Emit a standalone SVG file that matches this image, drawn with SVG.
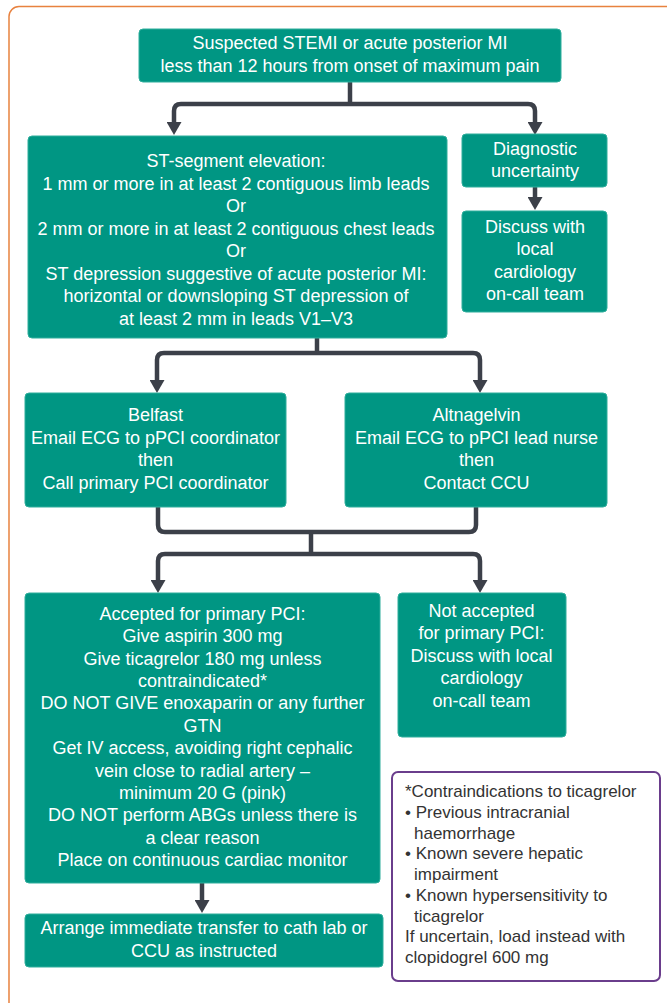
<svg xmlns="http://www.w3.org/2000/svg" width="667" height="1003" viewBox="0 0 667 1003">
<style>
.box{fill:#009683;stroke:#2fae9c;stroke-width:1}
.t{font-family:"Liberation Sans",Arial,sans-serif;font-size:18px;fill:#ffffff;text-anchor:middle}
.n{font-family:"Liberation Sans",Arial,sans-serif;font-size:17px;fill:#333333}
.c{fill:none;stroke:#3c4049;stroke-width:4.5}
</style>
<defs>
<marker id="arr" markerUnits="userSpaceOnUse" viewBox="0 -7.5 13 15" refX="0" refY="0" markerWidth="13" markerHeight="15" orient="auto">
<path d="M0,-7.5 L13,0 L0,7.5 z" fill="#3c4049"/>
</marker>
</defs>
<rect x="9" y="6.5" width="700" height="1006" rx="10" fill="#ffffff" stroke="#e8823f" stroke-width="1.5"/>

<g id="connectors">
<path class="c" d="M350,82 V104"/>
<path class="c" d="M350,104 H181 Q174,104 174,111 V122" marker-end="url(#arr)"/>
<path class="c" d="M350,104 H528 Q535,104 535,111 V122" marker-end="url(#arr)"/>
<path class="c" d="M535,187 V197" marker-end="url(#arr)"/>
<path class="c" d="M317,338 V353"/>
<path class="c" d="M317,353 H164 Q157,353 157,360 V380" marker-end="url(#arr)"/>
<path class="c" d="M317,353 H473 Q480,353 480,360 V380" marker-end="url(#arr)"/>
<path class="c" d="M158,507 V525 Q158,532 165,532 H469 Q476,532 476,525 V507"/>
<path class="c" d="M311,532 V554"/>
<path class="c" d="M311,554 H165 Q158,554 158,561 V580" marker-end="url(#arr)"/>
<path class="c" d="M311,554 H473 Q480,554 480,561 V580" marker-end="url(#arr)"/>
<path class="c" d="M202,883 V900" marker-end="url(#arr)"/>
</g>

<g id="start">
<rect class="box" x="139" y="29" width="422" height="53" rx="4"/>
<text class="t" x="350" y="49">Suspected STEMI or acute posterior MI</text>
<text class="t" x="350" y="72">less than 12 hours from onset of maximum pain</text>
</g>

<g id="st-elevation">
<rect class="box" x="28" y="136" width="419" height="202" rx="4"/>
<text class="t" x="236" y="167">ST-segment elevation:</text>
<text class="t" x="236" y="189.5">1 mm or more in at least 2 contiguous limb leads</text>
<text class="t" x="236" y="212">Or</text>
<text class="t" x="236" y="234.5">2 mm or more in at least 2 contiguous chest leads</text>
<text class="t" x="236" y="257">Or</text>
<text class="t" x="236" y="279.5">ST depression suggestive of acute posterior MI:</text>
<text class="t" x="236" y="302">horizontal or downsloping ST depression of</text>
<text class="t" x="236" y="324.5">at least 2 mm in leads V1–V3</text>
</g>

<g id="uncertainty">
<rect class="box" x="462" y="134" width="145" height="53" rx="4"/>
<text class="t" x="535" y="155">Diagnostic</text>
<text class="t" x="535" y="177">uncertainty</text>
</g>

<g id="discuss">
<rect class="box" x="462" y="211" width="145" height="101" rx="4"/>
<text class="t" x="535" y="233">Discuss with</text>
<text class="t" x="535" y="255">local</text>
<text class="t" x="535" y="277.5">cardiology</text>
<text class="t" x="535" y="299.5">on-call team</text>
</g>

<g id="belfast">
<rect class="box" x="25" y="393" width="261" height="114" rx="4"/>
<text class="t" x="155.5" y="421">Belfast</text>
<text class="t" x="155.5" y="443.5">Email ECG to pPCI coordinator</text>
<text class="t" x="155.5" y="466">then</text>
<text class="t" x="155.5" y="488.5">Call primary PCI coordinator</text>
</g>

<g id="altnagelvin">
<rect class="box" x="345" y="393" width="262" height="114" rx="4"/>
<text class="t" x="476.5" y="421">Altnagelvin</text>
<text class="t" x="476.5" y="443.5">Email ECG to pPCI lead nurse</text>
<text class="t" x="476.5" y="466">then</text>
<text class="t" x="476.5" y="488.5">Contact CCU</text>
</g>

<g id="accepted">
<rect class="box" x="25" y="593" width="355" height="290" rx="4"/>
<text class="t" x="202.5" y="620">Accepted for primary PCI:</text>
<text class="t" x="202.5" y="642.4">Give aspirin 300 mg</text>
<text class="t" x="202.5" y="664.7">Give ticagrelor 180 mg unless</text>
<text class="t" x="202.5" y="687.1">contraindicated*</text>
<text class="t" x="202.5" y="709.4">DO NOT GIVE enoxaparin or any further</text>
<text class="t" x="202.5" y="731.8">GTN</text>
<text class="t" x="202.5" y="754.2">Get IV access, avoiding right cephalic</text>
<text class="t" x="202.5" y="776.5">vein close to radial artery –</text>
<text class="t" x="202.5" y="798.9">minimum 20 G (pink)</text>
<text class="t" x="202.5" y="821.2">DO NOT perform ABGs unless there is</text>
<text class="t" x="202.5" y="843.6">a clear reason</text>
<text class="t" x="202.5" y="866">Place on continuous cardiac monitor</text>
</g>

<g id="not-accepted">
<rect class="box" x="398" y="593" width="168" height="144" rx="4"/>
<text class="t" x="481.5" y="616.5">Not accepted</text>
<text class="t" x="481.5" y="639">for primary PCI:</text>
<text class="t" x="481.5" y="661.5">Discuss with local</text>
<text class="t" x="481.5" y="684">cardiology</text>
<text class="t" x="481.5" y="706.5">on-call team</text>
</g>

<g id="transfer">
<rect class="box" x="25" y="914" width="358" height="53" rx="4"/>
<text class="t" x="204" y="934">Arrange immediate transfer to cath lab or</text>
<text class="t" x="204" y="957">CCU as instructed</text>
</g>

<g id="note">
<rect x="392" y="772" width="268" height="209" rx="6" fill="#ffffff" stroke="#6a3d8c" stroke-width="2"/>
<text class="n" x="405" y="797">*Contraindications to ticagrelor</text>
<text class="n" x="405" y="817.8">• Previous intracranial</text>
<text class="n" x="414" y="838.5">haemorrhage</text>
<text class="n" x="405" y="859.3">• Known severe hepatic</text>
<text class="n" x="414" y="880">impairment</text>
<text class="n" x="405" y="900.8">• Known hypersensitivity to</text>
<text class="n" x="414" y="921.5">ticagrelor</text>
<text class="n" x="405" y="942.3">If uncertain, load instead with</text>
<text class="n" x="405" y="963">clopidogrel 600 mg</text>
</g>
</svg>
